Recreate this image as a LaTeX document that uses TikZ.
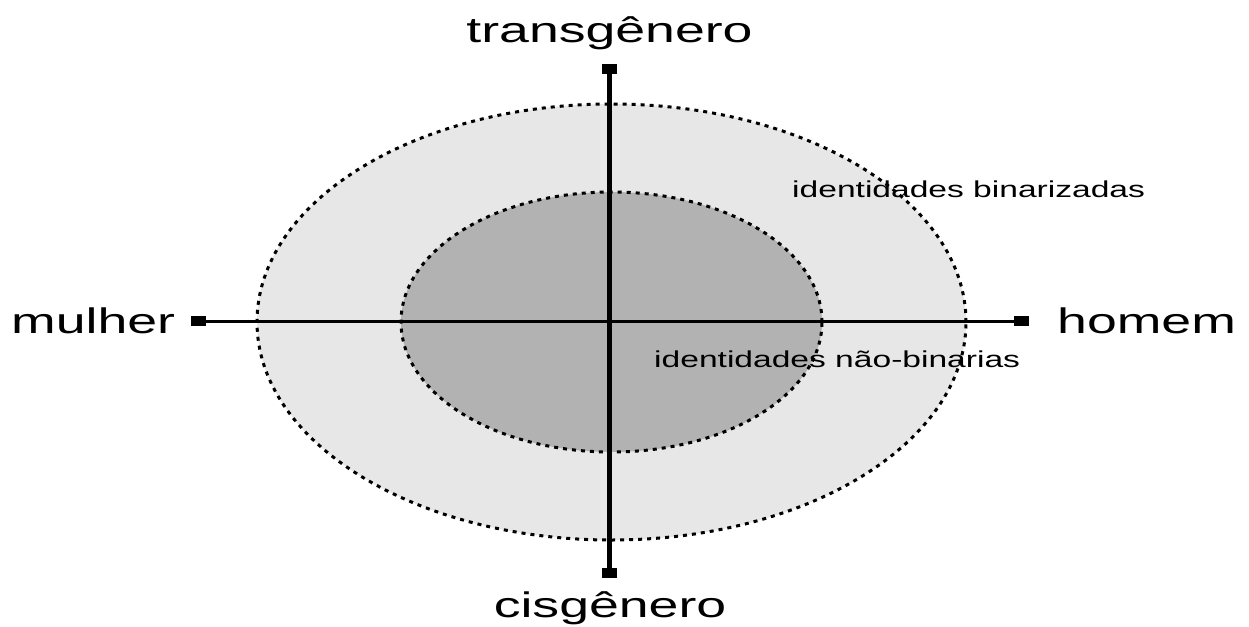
\documentclass[tikz,border=0pt]{standalone}
\usepackage{fontspec}
\setmainfont{Liberation Sans}
\usetikzlibrary{shapes.geometric}
\definecolor{outerfill}{gray}{0.905}
\definecolor{innerfill}{gray}{0.70}
\tikzset{
  endmark/.style={rectangle, draw=none, fill=black, minimum width=15pt, minimum height=10pt, inner sep=0pt},
  bigtext/.style={font=\fontsize{35.5}{40}\selectfont, inner sep=0pt},
  smalltext/.style={font=\fontsize{23}{27}\selectfont, inner sep=0pt},
  ring/.style={ellipse, draw=black, line width=3pt, dash pattern=on 4pt off 5pt, inner sep=0pt},
  hline/.style={line width=3pt},
  vline/.style={line width=5pt},
}
\newcommand{\wideL}[1]{\scalebox{1.51}[1]{#1}}
\newcommand{\wideS}[1]{\scalebox{1.46}[1]{#1}}
\begin{document}
\begin{tikzpicture}[x=1pt,y=-1pt]
  \useasboundingbox[fill=white] (0,0) rectangle (1249,626);
  % ellipses
  \node[ring, fill=outerfill, minimum width=709pt, minimum height=436pt] (outer) at (611.5,322) {};
  \node[ring, fill=innerfill, minimum width=421pt, minimum height=260pt] (inner) at (611.5,322) {};
  % axis end markers
  \node[endmark] (left) at (198.5,321) {};
  \node[endmark] (right) at (1021,321) {};
  \node[endmark] (top) at (609.5,69) {};
  \node[endmark] (bottom) at (609.5,573) {};
  % axes
  \draw[hline] (left.center) -- (right.center);
  \draw[vline] (top.center) -- (bottom.center);
  % labels
  \node[bigtext, anchor=base] (trans) at (609.5,43) {\wideL{transgênero}};
  \node[bigtext, anchor=base] (cis) at (610,617) {\wideL{cisgênero}};
  \node[bigtext, anchor=base west] (mulher) at (11,333) {\wideL{mulher}};
  \node[bigtext, anchor=base west] (homem) at (1057,333) {\wideL{homem}};
  \node[smalltext, anchor=base west] (bin) at (792,197) {\wideS{identidades binarizadas}};
  \node[smalltext, anchor=base west] (nbin) at (654,367) {\wideS{identidades não-binarias}};
\end{tikzpicture}
\end{document}
